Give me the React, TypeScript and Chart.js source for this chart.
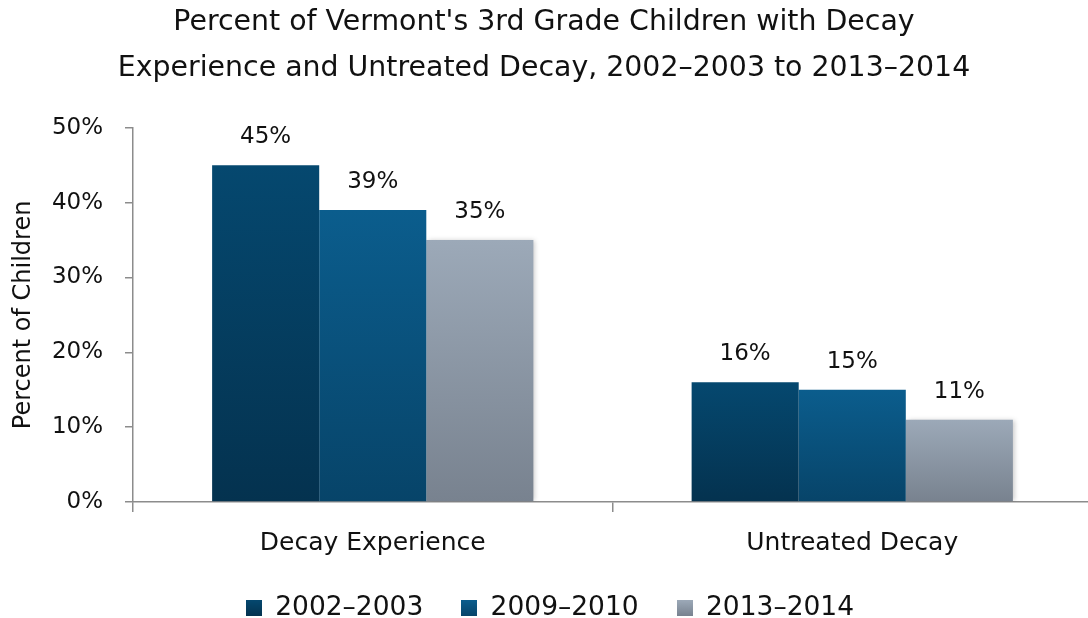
import React, { useEffect, useRef } from "react";
import { Chart, registerables } from "chart.js";

Chart.register(...registerables);

const titleLines = [
  "Percent of Vermont's 3rd Grade Children with Decay",
  "Experience and Untreated Decay, 2002–2003 to 2013–2014",
];
const categories = ["Decay Experience", "Untreated Decay"];
const seriesNames = ["2002–2003", "2009–2010", "2013–2014"];
const values2002 = [45, 16];
const values2009 = [39, 15];
const values2013 = [35, 11];
const yTicks = [0, 10, 20, 30, 40, 50];
const yTitle = "Percent of Children";

const FONT = "'DejaVu Sans', Verdana, sans-serif";
const gradStops: [string, string][] = [
  ["#05486f", "#04324f"],
  ["#0b5d8d", "#074469"],
  ["#9ca9b8", "#78828f"],
];

function makeSwatch(top: string, bottom: string) {
  const c = document.createElement("canvas");
  c.width = 16;
  c.height = 16;
  const x = c.getContext("2d")!;
  const g = x.createLinearGradient(0, 0, 0, 16);
  g.addColorStop(0, top);
  g.addColorStop(1, bottom);
  x.fillStyle = g;
  x.fillRect(0, 0, 16, 16);
  return c;
}

export default function App() {
  const ref = useRef<HTMLCanvasElement>(null);
  useEffect(() => {
    document.body.style.margin = "0";
    document.body.style.overflow = "hidden";
    const seriesValues = [values2002, values2009, values2013];
    const swatches = gradStops.map(([a, b]) => makeSwatch(a, b));

    const barLabels = {
      id: "barLabels",
      afterDatasetsDraw(chart: any) {
        const ctx = chart.ctx;
        ctx.save();
        ctx.font = `23px ${FONT}`;
        ctx.fillStyle = "#111";
        ctx.textAlign = "center";
        ctx.textBaseline = "alphabetic";
        chart.data.datasets.forEach((ds: any, i: number) => {
          const meta = chart.getDatasetMeta(i);
          meta.data.forEach((el: any, j: number) => {
            ctx.fillText(ds.data[j] + "%", el.x, el.y - 22);
          });
        });
        ctx.restore();
      },
    };
    const shadow = {
      id: "barShadow",
      beforeDatasetDraw(chart: any, args: any) {
        const ctx = chart.ctx;
        ctx.save();
        if (args.index === 2) {
          ctx.shadowColor = "rgba(0,0,0,0.22)";
          ctx.shadowBlur = 5;
          ctx.shadowOffsetX = 2;
          ctx.shadowOffsetY = 0;
        }
      },
      afterDatasetDraw(chart: any) {
        chart.ctx.restore();
      },
    };
    const nudge = {
      id: "nudge",
      afterLayout(chart: any) {
        const lg = chart.legend;
        if (lg) {
          lg.left += 4;
          lg.right += 4;
          lg.top += 2;
          lg.bottom += 2;
        }
        const tb = chart.titleBlock;
        if (tb) {
          tb.left -= 2;
          tb.right -= 2;
        }
      },
    };

    const chart = new Chart(ref.current!, {
      type: "bar",
      data: {
        labels: categories,
        datasets: seriesNames.map((name, i) => ({
          label: name,
          data: seriesValues[i],
          pointStyle: swatches[i],
          borderWidth: 0,
          categoryPercentage: 0.67,
          barPercentage: 1,
          backgroundColor: (c: any) => {
            const ch = c.chart;
            if (!ch.chartArea || c.type !== "data" || !ch.scales.y) return gradStops[i][0];
            const ys = ch.scales.y;
            const top = ys.getPixelForValue(c.raw);
            const bottom = ys.getPixelForValue(0);
            const g = ch.ctx.createLinearGradient(0, top, 0, bottom);
            g.addColorStop(0, gradStops[i][0]);
            g.addColorStop(1, gradStops[i][1]);
            return g;
          },
        })),
      },
      options: {
        animation: false,
        responsive: true,
        maintainAspectRatio: false,
        layout: { padding: { left: 0, right: 0, top: 0, bottom: 0 } },
        plugins: {
          title: {
            display: true,
            text: titleLines,
            color: "#111",
            font: { family: FONT, size: 28.4, weight: "normal", lineHeight: 1.616 },
            padding: { top: 0, bottom: 36 },
          },
          legend: {
            position: "bottom",
            maxHeight: 63,
            labels: {
              usePointStyle: true,
              boxWidth: 16,
              boxHeight: 16,
              color: "#111",
              font: { family: FONT, size: 26.5 },
              padding: 38,
            },
          },
          tooltip: { enabled: false },
        },
        scales: {
          x: {
            afterFit: (scale: any) => {
              scale.height = 53;
            },
            grid: {
              display: true,
              drawOnChartArea: false,
              drawTicks: true,
              tickLength: 10,
              color: "#8c8c8c",
              lineWidth: 1.5,
            },
            border: { display: true, color: "#8c8c8c", width: 1.5 },
            ticks: { color: "#111", font: { family: FONT, size: 25, lineHeight: 0.96 }, padding: 19 },
          },
          y: {
            min: 0,
            max: 50,
            afterFit: (scale: any) => {
              scale.width = 133;
            },
            afterBuildTicks: (axis: any) => {
              axis.ticks = yTicks.map((v) => ({ value: v }));
            },
            grid: {
              display: true,
              drawOnChartArea: false,
              drawTicks: true,
              tickLength: 8,
              color: "#8c8c8c",
              lineWidth: 1.5,
            },
            border: { display: true, color: "#8c8c8c", width: 1.5 },
            ticks: {
              color: "#111",
              font: { family: FONT, size: 23 },
              padding: 22,
              callback: (v: any) => v + "%",
            },
            title: {
              display: true,
              text: yTitle,
              color: "#111",
              font: { family: FONT, size: 24 },
              padding: { top: 9, bottom: 14 },
            },
          },
        },
      },
      plugins: [barLabels, shadow, nudge],
    });
    return () => chart.destroy();
  }, []);
  return (
    <div style={{ width: 1088, height: 618, overflow: "hidden", position: "relative" }}>
      <div style={{ width: 1092, height: 618, position: "relative" }}>
        <canvas ref={ref} />
      </div>
    </div>
  );
}
